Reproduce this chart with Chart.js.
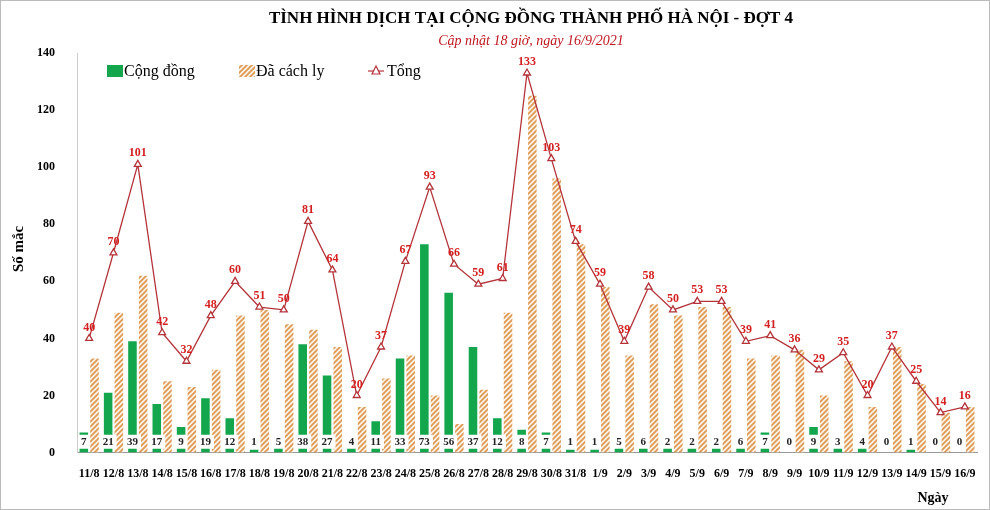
<!DOCTYPE html><html><head><meta charset="utf-8">
<script src="https://cdn.jsdelivr.net/npm/chart.js@4"></script>
<style>body{margin:0;background:#fff}#w{width:990px;height:510px;position:relative;border:1px solid #bbb;box-sizing:border-box}</style>
</head><body><div id="w"><canvas id="c" width="988" height="508"></canvas></div>
<script>
const labels=["11/8","12/8","13/8","14/8","15/8","16/8","17/8","18/8","19/8","20/8","21/8","22/8","23/8","24/8","25/8","26/8","27/8","28/8","29/8","30/8","31/8","1/9","2/9","3/9","4/9","5/9","6/9","7/9","8/9","9/9","10/9","11/9","12/9","13/9","14/9","15/9","16/9"];
const congDong=[7,21,39,17,9,19,12,1,5,38,27,4,11,33,73,56,37,12,8,7,1,1,5,6,2,2,2,6,7,0,9,3,4,0,1,0,0];
const cachLy=[33,49,62,25,23,29,48,50,45,43,37,16,26,34,20,10,22,49,125,96,73,58,34,52,48,51,51,33,34,36,20,32,16,37,24,14,16];
const tong=[40,70,101,42,32,48,60,51,50,81,64,20,37,67,93,66,59,61,133,103,74,59,39,58,50,53,53,39,41,36,29,35,20,37,25,14,16];
const yTicks=[0,20,40,60,80,100,120,140];

function hatch(){const p=document.createElement('canvas');p.width=5;p.height=5;const g=p.getContext('2d');
g.fillStyle='#fdf3e8';g.fillRect(0,0,5,5);g.strokeStyle='#dd9a55';g.lineWidth=1.8;
g.beginPath();g.moveTo(0,5);g.lineTo(5,0);g.moveTo(-2.5,2.5);g.lineTo(2.5,-2.5);g.moveTo(2.5,7.5);g.lineTo(7.5,2.5);g.stroke();
return g.createPattern(p,'repeat');}
const H=hatch();
const ctx=document.getElementById('c').getContext('2d');
const serif='"Liberation Serif","Times New Roman",serif';
const extra={id:'extra',afterDatasetsDraw(ch){
 const c=ch.ctx,m0=ch.getDatasetMeta(0),y=ch.scales.y;
 c.save();c.font='bold 11px '+serif;c.textAlign='center';c.textBaseline='middle';
 m0.data.forEach((b,i)=>{const yy=y.getPixelForValue(3.8);const t=String(congDong[i]);const w=c.measureText(t).width+6;
  c.fillStyle='#fff';c.fillRect(b.x-w/2,yy-7,w,14);c.fillStyle='#222';c.fillText(t,b.x,yy);});
 const m2=ch.getDatasetMeta(2);c.fillStyle='#d42020';c.font='bold 12px '+serif;c.textBaseline='bottom';
 m2.data.forEach((p,i)=>c.fillText(String(tong[i]),p.x,p.y-5));
 c.fillStyle='#000';c.font='bold 17px '+serif;c.textBaseline='middle';c.fillText('TÌNH HÌNH DỊCH TẠI CỘNG ĐỒNG THÀNH PHỐ HÀ NỘI - ĐỢT 4',530,18);
 c.fillStyle='#c0161f';c.font='italic 14px '+serif;c.fillText('Cập nhật 18 giờ, ngày 16/9/2021',530,40);
 // legend
 c.textAlign='left';c.font='16px '+serif;c.fillStyle='#13a64c';c.fillRect(106,64,16,12);
 c.fillStyle='#000';c.fillText('Cộng đồng',123,71);
 c.fillStyle=H;c.fillRect(238,64,16,12);c.fillStyle='#000';c.fillText('Đã cách ly',255,71);
 c.strokeStyle='#b4343a';c.lineWidth=1.2;c.beginPath();c.moveTo(367,70);c.lineTo(383,70);c.stroke();
 c.fillStyle='#fff';c.beginPath();c.moveTo(375,65);c.lineTo(379,73);c.lineTo(371,73);c.closePath();c.fill();c.stroke();
 c.fillStyle='#000';c.fillText('Tổng',386,71);
 c.textAlign='center';c.font='bold 14px '+serif;c.fillText('Ngày',932,497);
 c.translate(18,248);c.rotate(-Math.PI/2);c.font='bold 15px '+serif;c.fillText('Số mắc',0,0);
 c.restore();}};
new Chart(ctx,{data:{labels,datasets:[
 {type:'bar',label:'Cộng đồng',data:congDong,backgroundColor:'#13a64c',barPercentage:0.8,categoryPercentage:0.88,order:2},
 {type:'bar',label:'Đã cách ly',data:cachLy,backgroundColor:H,barPercentage:0.8,categoryPercentage:0.88,order:2},
 {type:'line',label:'Tổng',data:tong,borderColor:'#b4343a',borderWidth:1.3,pointStyle:'triangle',pointRadius:4,pointBackgroundColor:'#fff',pointBorderColor:'#b4343a',tension:0,order:1}]},
 options:{responsive:false,animation:false,layout:{padding:{left:22,right:12,top:52,bottom:22}},
 plugins:{legend:{display:false},tooltip:{enabled:false}},
 scales:{x:{grid:{display:false},border:{color:'#999'},ticks:{font:{family:serif,size:12,weight:'bold'},color:'#000',maxRotation:0,autoSkip:false,padding:6}},
  y:{min:0,max:140,afterBuildTicks(a){a.ticks=yTicks.map(v=>({value:v}));},grid:{display:false},border:{color:'#ccc'},ticks:{font:{family:serif,size:12,weight:'bold'},color:'#000',padding:14}}}},
 plugins:[extra]});
</script></body></html>
